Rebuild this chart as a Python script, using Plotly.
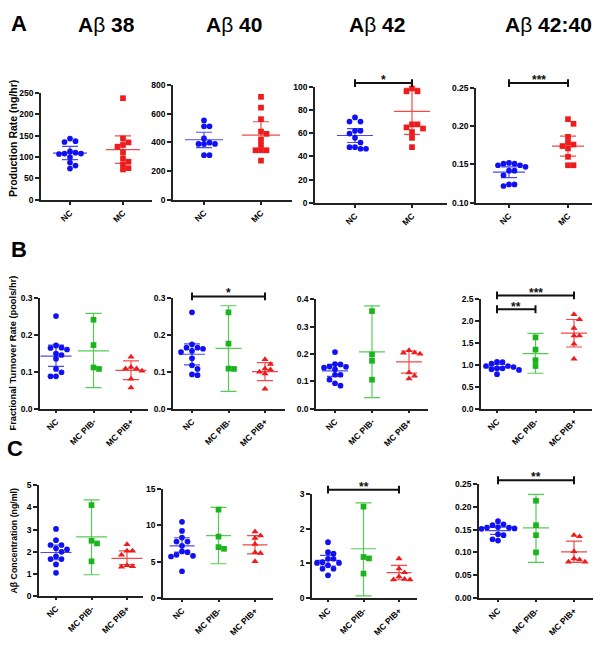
import plotly.graph_objects as go

# ---------------- data ----------------
groups_a = ["NC", "MC"]
groups_bc = ["NC", "MC PIB-", "MC PIB+"]
headers = ["Aβ 38", "Aβ 40", "Aβ 42", "Aβ 42:40"]

# Row A: production rate (ng/hr)
ab38_nc = [143, 137, 135, 113, 110, 108, 108, 107, 100, 87, 80, 73]
ab38_mc = [237, 143, 134, 128, 124, 111, 97, 89, 83, 74, 71]
ab38_center = [109, 117]
ab38_lo = [94, 85]
ab38_hi = [125, 149]

ab40_nc = [552, 511, 511, 427, 398, 389, 389, 389, 311, 311]
ab40_mc = [716, 641, 561, 475, 459, 420, 382, 345, 345, 345, 273]
ab40_center = [418, 450]
ab40_lo = [364, 357]
ab40_hi = [470, 543]

ab42_nc = [73.6, 70, 70, 62, 62, 59.7, 56, 52, 48, 48, 46.6, 46.6]
ab42_mc = [98.5, 96, 96, 67.6, 67.6, 65, 64, 61, 56, 48]
ab42_center = [58, 78.7]
ab42_lo = [52, 59]
ab42_hi = [64, 98.5]
ab42_sig = [(0, 1, "*")]

r4240_nc = [0.152, 0.151, 0.151, 0.149, 0.149, 0.147, 0.142, 0.142, 0.136, 0.124, 0.124, 0.122]
r4240_mc = [0.209, 0.203, 0.186, 0.179, 0.176, 0.174, 0.171, 0.160, 0.149, 0.149]
r4240_center = [0.140, 0.174]
r4240_lo = [0.133, 0.161]
r4240_hi = [0.147, 0.187]
r4240_sig = [(0, 1, "***")]

# Row B: fractional turnover rate (pools/hr)
ftr38_nc = [0.252, 0.172, 0.166, 0.165, 0.161, 0.150, 0.146, 0.136, 0.108, 0.099, 0.088, 0.088]
ftr38_pibm = [0.242, 0.173, 0.112, 0.108]
ftr38_pibp = [0.141, 0.113, 0.109, 0.109, 0.103, 0.081, 0.057]
ftr38_center = [0.143, 0.157, 0.104]
ftr38_lo = [0.115, 0.057, 0.079]
ftr38_hi = [0.173, 0.259, 0.130]

ftr40_nc = [0.262, 0.175, 0.166, 0.166, 0.163, 0.157, 0.154, 0.137, 0.118, 0.108, 0.093, 0.091]
ftr40_pibm = [0.262, 0.177, 0.109, 0.108]
ftr40_pibp = [0.134, 0.121, 0.109, 0.106, 0.100, 0.095, 0.054]
ftr40_center = [0.148, 0.164, 0.101]
ftr40_lo = [0.119, 0.047, 0.076]
ftr40_hi = [0.176, 0.280, 0.125]
ftr40_sig = [(0, 2, "*")]

ftr42_nc = [0.207, 0.163, 0.162, 0.154, 0.153, 0.150, 0.144, 0.124, 0.124, 0.106, 0.093, 0.084]
ftr42_pibm = [0.357, 0.198, 0.175, 0.106]
ftr42_pibp = [0.213, 0.205, 0.204, 0.200, 0.132, 0.120, 0.110]
ftr42_center = [0.138, 0.208, 0.171]
ftr42_lo = [0.118, 0.040, 0.130]
ftr42_hi = [0.162, 0.376, 0.211]

ftrr_nc = [1.07, 1.066, 1.03, 0.976, 0.976, 0.953, 0.923, 0.923, 0.90, 0.886, 0.886, 0.788]
ftrr_pibm = [1.63, 1.35, 1.11, 0.976]
ftrr_pibp = [2.155, 2.04, 1.84, 1.667, 1.667, 1.48, 1.14]
ftrr_center = [0.95, 1.26, 1.727]
ftrr_lo = [0.89, 0.81, 1.41]
ftrr_hi = [1.01, 1.72, 2.04]
ftrr_sig = [(0, 2, "***"), (0, 1, "**")]

# Row C: concentration (ng/ml)
conc38_nc = [3.03, 2.52, 2.30, 2.30, 2.15, 2.10, 1.99, 1.78, 1.66, 1.66, 1.42, 1.04]
conc38_pibm = [4.11, 2.49, 2.37, 1.56]
conc38_pibp = [2.33, 2.03, 2.03, 1.85, 1.37, 1.33, 1.31]
conc38_center = [1.96, 2.67, 1.69]
conc38_lo = [1.63, 0.95, 1.41]
conc38_hi = [2.30, 4.35, 2.03]

conc40_nc = [10.5, 9.24, 8.32, 7.77, 7.77, 7.18, 6.4, 6.3, 5.94, 5.8, 5.7, 3.66]
conc40_pibm = [12.2, 8.46, 7.0, 6.77]
conc40_pibp = [9.14, 8.6, 8.23, 7.4, 6.26, 6.17, 5.03]
conc40_center = [7.18, 8.6, 7.3]
conc40_lo = [6.3, 4.7, 6.08]
conc40_hi = [8.3, 12.5, 8.6]

conc42_nc = [1.61, 1.32, 1.28, 1.13, 1.13, 1.03, 1.01, 1.01, 0.94, 0.84, 0.84, 0.65]
conc42_pibm = [2.64, 1.18, 1.14, 0.70]
conc42_pibp = [1.13, 0.84, 0.73, 0.61, 0.54, 0.52, 0.52]
conc42_center = [1.08, 1.42, 0.73]
conc42_lo = [0.92, 0.05, 0.52]
conc42_hi = [1.23, 2.75, 0.94]
conc42_sig = [(0, 2, "**")]

concr_nc = [0.169, 0.162, 0.160, 0.156, 0.155, 0.155, 0.153, 0.152, 0.140, 0.138, 0.129, 0.126]
concr_pibm = [0.214, 0.160, 0.138, 0.100]
concr_pibp = [0.138, 0.135, 0.102, 0.086, 0.084, 0.079, 0.079]
concr_center = [0.148, 0.154, 0.101]
concr_lo = [0.140, 0.078, 0.078]
concr_hi = [0.156, 0.228, 0.125]
concr_sig = [(0, 2, "**")]

# ---------------- layout / style ----------------
W, H = 604, 646
FONT = "Liberation Sans, Arial, sans-serif"
STYLE = {
    "NC": dict(color="#1010f2", line="#4a4af5", symbol="circle"),
    "MC": dict(color="#ee1c1c", line="#f04a4a", symbol="square"),
    "MC PIB-": dict(color="#1cb41c", line="#55cc55", symbol="square"),
    "MC PIB+": dict(color="#ee1c1c", line="#f04a4a", symbol="triangle-up"),
}

panels = [
    dict(groups=groups_a, vals=[ab38_nc, ab38_mc], c=ab38_center, lo=ab38_lo, hi=ab38_hi, sig=[],
         yr=[0, 250], dtick=50, fmt="d", xpx=(41, 152), ypx=(89, 198), cats=(70, 123), mh=17, bars=[], stars=[]),
    dict(groups=groups_a, vals=[ab40_nc, ab40_mc], c=ab40_center, lo=ab40_lo, hi=ab40_hi, sig=[],
         yr=[0, 800], dtick=200, fmt="d", xpx=(173, 292), ypx=(81, 198), cats=(204, 261), mh=19, bars=[], stars=[]),
    dict(groups=groups_a, vals=[ab42_nc, ab42_mc], c=ab42_center, lo=ab42_lo, hi=ab42_hi, sig=ab42_sig,
         yr=[0, 100], dtick=20, fmt="d", xpx=(315, 447), ypx=(83, 201), cats=(355, 412), mh=18,
         bars=[79.3], stars=[73]),
    dict(groups=groups_a, vals=[r4240_nc, r4240_mc], c=r4240_center, lo=r4240_lo, hi=r4240_hi, sig=r4240_sig,
         yr=[0.10, 0.25], dtick=0.05, fmt=".2f", xpx=(476, 592), ypx=(84, 201), cats=(509, 568), mh=16,
         bars=[79.3], stars=[72.7]),
    dict(groups=groups_bc, vals=[ftr38_nc, ftr38_pibm, ftr38_pibp], c=ftr38_center, lo=ftr38_lo, hi=ftr38_hi, sig=[],
         yr=[0, 0.3], dtick=0.1, fmt=".1f", xpx=(40, 148), ypx=(298, 410), cats=(56, 131), mh=15.5, bars=[], stars=[]),
    dict(groups=groups_bc, vals=[ftr40_nc, ftr40_pibm, ftr40_pibp], c=ftr40_center, lo=ftr40_lo, hi=ftr40_hi, sig=ftr40_sig,
         yr=[0, 0.3], dtick=0.1, fmt=".1f", xpx=(173, 285), ypx=(298, 410), cats=(192, 265), mh=13,
         bars=[296], stars=[289.3]),
    dict(groups=groups_bc, vals=[ftr42_nc, ftr42_pibm, ftr42_pibp], c=ftr42_center, lo=ftr42_lo, hi=ftr42_hi, sig=[],
         yr=[0, 0.4], dtick=0.1, fmt=".1f", xpx=(316, 428), ypx=(299, 410), cats=(335, 409), mh=13, bars=[], stars=[]),
    dict(groups=groups_bc, vals=[ftrr_nc, ftrr_pibm, ftrr_pibp], c=ftrr_center, lo=ftrr_lo, hi=ftrr_hi, sig=ftrr_sig,
         yr=[0, 2.5], dtick=0.5, fmt=".1f", xpx=(481, 592), ypx=(299, 410), cats=(497, 574), mh=13,
         bars=[295, 309], stars=[289.3, 303.3]),
    dict(groups=groups_bc, vals=[conc38_nc, conc38_pibm, conc38_pibp], c=conc38_center, lo=conc38_lo, hi=conc38_hi, sig=[],
         yr=[0, 5], dtick=1, fmt="d", xpx=(39, 143), ypx=(488, 600), cats=(56, 127), mh=15.5, bars=[], stars=[]),
    dict(groups=groups_bc, vals=[conc40_nc, conc40_pibm, conc40_pibp], c=conc40_center, lo=conc40_lo, hi=conc40_hi, sig=[],
         yr=[0, 15], dtick=5, fmt="d", xpx=(163, 273), ypx=(492, 602), cats=(182, 255), mh=12.5, bars=[], stars=[]),
    dict(groups=groups_bc, vals=[conc42_nc, conc42_pibm, conc42_pibp], c=conc42_center, lo=conc42_lo, hi=conc42_hi, sig=conc42_sig,
         yr=[0, 3], dtick=1, fmt="d", xpx=(312, 417), ypx=(497, 602), cats=(328, 399), mh=12.5,
         bars=[492.3], stars=[486.7]),
    dict(groups=groups_bc, vals=[concr_nc, concr_pibm, concr_pibp], c=concr_center, lo=concr_lo, hi=concr_hi, sig=concr_sig,
         yr=[0, 0.25], dtick=0.05, fmt=".2f", xpx=(479, 593), ypx=(487, 602), cats=(498, 574), mh=13,
         bars=[482.7], stars=[476.7]),
]

CAP_PX = 8
DOT_PX = 5.5


def swarm(vals, r0, r1, hpx, d):
    """Simple beeswarm: pixel x-offsets so markers do not overlap."""
    order = sorted(range(len(vals)), key=lambda i: -vals[i])
    placed = []
    offs = [0.0] * len(vals)
    cands = [0.0]
    for j in range(1, 12):
        cands += [j * d, -j * d]
    for i in order:
        y = (vals[i] - r0) / (r1 - r0) * hpx
        for c in cands:
            if all((c - px) ** 2 + (y - py) ** 2 >= (d * 0.95) ** 2 for px, py in placed):
                offs[i] = c
                placed.append((c, y))
                break
    return offs


fig = go.Figure()
layout = dict(width=W, height=H, margin=dict(l=0, r=0, t=0, b=0), autosize=False,
              showlegend=False, plot_bgcolor="white", paper_bgcolor="white",
              font=dict(family=FONT, color="black"))
shapes = []
annotations = []
tickfont = dict(family=FONT, size=8.5, color="black", weight="bold")

for k, p in enumerate(panels, start=1):
    n = len(p["groups"])
    c0, c1 = p["cats"]
    unit = (c1 - c0) / (n - 1)
    xr = [(p["xpx"][0] - c0) / unit, (p["xpx"][1] - c0) / unit]
    hpx = p["ypx"][1] - p["ypx"][0]
    xa, ya = f"x{k}", f"y{k}"
    sfx = "" if k == 1 else str(k)

    layout["xaxis" + sfx] = dict(
        domain=[p["xpx"][0] / W, p["xpx"][1] / W], range=xr, anchor=ya,
        tickvals=list(range(n)), ticktext=p["groups"], tickangle=-45,
        showline=True, linecolor="#222", linewidth=1.5, ticks="outside", ticklen=3,
        tickwidth=1.5, tickcolor="#222", showgrid=False, zeroline=False, tickfont=tickfont)
    layout["yaxis" + sfx] = dict(
        domain=[1 - p["ypx"][1] / H, 1 - p["ypx"][0] / H], range=p["yr"], anchor=xa,
        dtick=p["dtick"], tick0=p["yr"][0], tickformat=p["fmt"],
        showline=True, linecolor="#222", linewidth=1.5, ticks="outside", ticklen=4,
        tickwidth=1.5, tickcolor="#222", showgrid=False, zeroline=False, tickfont=tickfont)

    mw = p["mh"] / unit
    cw = CAP_PX / unit
    for g, name in enumerate(p["groups"]):
        st = STYLE[name]
        m, lo, hi = p["c"][g], p["lo"][g], p["hi"][g]
        fig.add_trace(go.Scatter(
            x=[g - mw, g + mw, None, g, g, None, g - cw, g + cw, None, g - cw, g + cw],
            y=[m, m, None, lo, hi, None, lo, lo, None, hi, hi],
            mode="lines", line=dict(color=st["line"], width=1.2),
            xaxis=xa, yaxis=ya, hoverinfo="skip"))
        vals = p["vals"][g]
        offs = swarm(vals, p["yr"][0], p["yr"][1], hpx, DOT_PX)
        fig.add_trace(go.Scatter(
            x=[g + o / unit for o in offs], y=vals, mode="markers",
            marker=dict(symbol=st["symbol"], size=5.7 if st["symbol"] != "triangle-up" else 6.3,
                        color=st["color"], line=dict(width=0)),
            xaxis=xa, yaxis=ya, cliponaxis=False))

    for (g0, g1, txt), bpy, spy in zip(p["sig"], p["bars"], p["stars"]):
        yb = 1 - bpy / H
        tick = 4 / H
        shapes.append(dict(type="line", xref=xa, yref="paper", x0=g0, x1=g1, y0=yb, y1=yb,
                           line=dict(color="#111", width=2)))
        for gx in (g0, g1):
            shapes.append(dict(type="line", xref=xa, yref="paper", x0=gx, x1=gx,
                               y0=yb - tick, y1=yb + tick, line=dict(color="#111", width=2)))
        annotations.append(dict(text=txt, xref=xa, yref="paper", x=(g0 + g1) / 2, y=1 - (spy + 3) / H,
                                showarrow=False, xanchor="center", yanchor="middle",
                                font=dict(family=FONT, size=12, color="#111", weight="bold")))

# headers and panel letters
header_x = [106, 234, 377, 548]
for txt, hx in zip(headers, header_x):
    a, rest = txt.split("β")
    annotations.append(dict(text=f"<b>{a}</b>β<b>{rest}</b>", xref="paper", yref="paper",
                            x=hx / W, y=1 - 20 / H, showarrow=False, xanchor="center", yanchor="middle",
                            font=dict(family=FONT, size=21, color="black")))
for letter, lx, ly in [("A", 19, 19), ("B", 19, 248), ("C", 15, 450)]:
    annotations.append(dict(text=f"<b>{letter}</b>", xref="paper", yref="paper", x=lx / W, y=1 - ly / H,
                            showarrow=False, xanchor="center", yanchor="middle",
                            font=dict(family=FONT, size=22, color="black")))

for txt, tx, ty, fs in [("Production Rate (ng/hr)", 13, 136, 10.5),
                        ("Fractional Turnover Rate (pools/hr)", 13, 354, 9.3),
                        ("Aβ Concentration (ng/ml)", 14, 544, 8.8)]:
    annotations.append(dict(text=txt, xref="paper", yref="paper", x=tx / W, y=1 - ty / H,
                            textangle=-90, showarrow=False, xanchor="center", yanchor="middle",
                            font=dict(family=FONT, size=fs, color="black", weight="bold")))

layout["shapes"] = shapes
layout["annotations"] = annotations
fig.update_layout(**layout)
fig.write_html("out.html", config={"displayModeBar": False},
               post_script="document.body.style.margin='0';document.body.style.padding='0';")
